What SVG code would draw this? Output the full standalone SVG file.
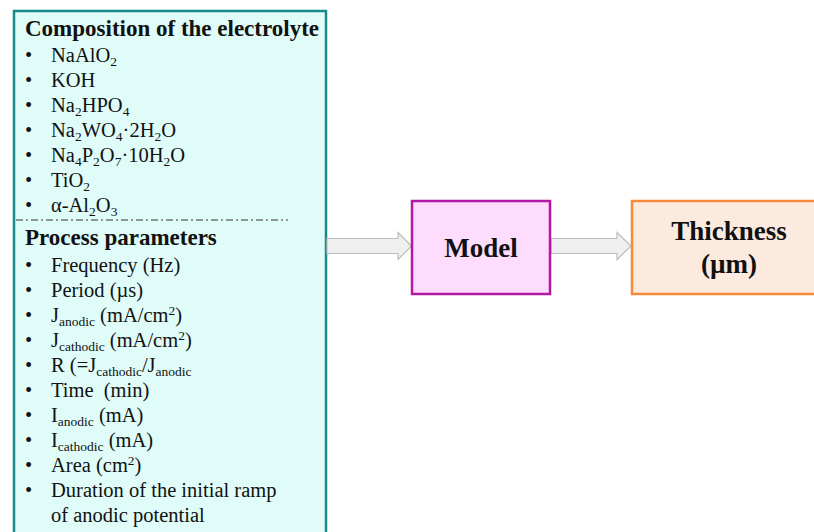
<svg xmlns="http://www.w3.org/2000/svg" width="814" height="532" viewBox="0 0 814 532">
<defs>
<style>
.t{font-family:"Liberation Serif","Times New Roman",serif;fill:#111;}
.h{font-size:23px;font-weight:bold;}
.i{font-size:20.5px;}
.s{font-size:13.5px;}
.b{font-size:27px;font-weight:bold;}
.pre{white-space:pre;}
.arrow{fill:#efefef;stroke:#bdbdbd;stroke-width:1.2;}
</style>
</defs>
<rect width="814" height="532" fill="#ffffff"/>
<g id="inputs">
<rect x="14" y="11" width="312" height="540" fill="#e0fcf9" stroke="#178a8a" stroke-width="2.5"/>
<line x1="16" y1="220" x2="288" y2="220" stroke="#333" stroke-width="1.2" stroke-dasharray="7,3,2,3"/>
<text class="t h" x="25" y="36">Composition of the electrolyte</text>
<g class="t i">
<text x="25" y="62">•</text><text x="51" y="62">NaAlO<tspan class="s" dy="4">2</tspan></text>
<text x="25" y="87">•</text><text x="51" y="87">KOH</text>
<text x="25" y="112">•</text><text x="51" y="112">Na<tspan class="s" dy="4">2</tspan><tspan dy="-4">HPO</tspan><tspan class="s" dy="4">4</tspan></text>
<text x="25" y="137">•</text><text x="51" y="137">Na<tspan class="s" dy="4">2</tspan><tspan dy="-4">WO</tspan><tspan class="s" dy="4">4</tspan><tspan dy="-4">·2H</tspan><tspan class="s" dy="4">2</tspan><tspan dy="-4">O</tspan></text>
<text x="25" y="162">•</text><text x="51" y="162">Na<tspan class="s" dy="4">4</tspan><tspan dy="-4">P</tspan><tspan class="s" dy="4">2</tspan><tspan dy="-4">O</tspan><tspan class="s" dy="4">7</tspan><tspan dy="-4">·10H</tspan><tspan class="s" dy="4">2</tspan><tspan dy="-4">O</tspan></text>
<text x="25" y="187">•</text><text x="51" y="187">TiO<tspan class="s" dy="4">2</tspan></text>
<text x="25" y="212">•</text><text x="51" y="212">α-Al<tspan class="s" dy="4">2</tspan><tspan dy="-4">O</tspan><tspan class="s" dy="4">3</tspan></text>
</g>
<text class="t h" x="25" y="245">Process parameters</text>
<g class="t i">
<text x="25" y="272">•</text><text x="51" y="272">Frequency (Hz)</text>
<text x="25" y="297">•</text><text x="51" y="297">Period (µs)</text>
<text x="25" y="322">•</text><text x="51" y="322">J<tspan class="s" dy="4">anodic</tspan><tspan dy="-4"> (mA/cm</tspan><tspan class="s" dy="-7">2</tspan><tspan dy="7">)</tspan></text>
<text x="25" y="347">•</text><text x="51" y="347">J<tspan class="s" dy="4">cathodic</tspan><tspan dy="-4"> (mA/cm</tspan><tspan class="s" dy="-7">2</tspan><tspan dy="7">)</tspan></text>
<text x="25" y="372">•</text><text x="51" y="372">R (=J<tspan class="s" dy="4">cathodic</tspan><tspan dy="-4">/J</tspan><tspan class="s" dy="4">anodic</tspan></text>
<text x="25" y="397">•</text><text class="pre" x="51" y="397">Time  (min)</text>
<text x="25" y="422">•</text><text x="51" y="422">I<tspan class="s" dy="4">anodic</tspan><tspan dy="-4"> (mA)</tspan></text>
<text x="25" y="447">•</text><text x="51" y="447">I<tspan class="s" dy="4">cathodic</tspan><tspan dy="-4"> (mA)</tspan></text>
<text x="25" y="472">•</text><text x="51" y="472">Area (cm<tspan class="s" dy="-7">2</tspan><tspan dy="7">)</tspan></text>
<text x="25" y="497">•</text><text x="51" y="497">Duration of the initial ramp</text>
<text x="51" y="522">of anodic potential</text>
</g>
</g>
<g id="connectors">
<polygon class="arrow" points="327,238.5 398,238.5 398,232.5 411.5,246 398,259.5 398,253.5 327,253.5"/>
<polygon class="arrow" points="551,238.5 617,238.5 617,232.5 631,246 617,259.5 617,253.5 551,253.5"/>
</g>
<g id="model">
<rect x="412" y="201" width="138" height="93" fill="#fedcfd" stroke="#b21aa5" stroke-width="2.5"/>
<text class="t b" x="481" y="257" text-anchor="middle">Model</text>
</g>
<g id="thickness">
<rect x="632" y="201" width="200" height="93" fill="#fdeadf" stroke="#f68a3a" stroke-width="2.5"/>
<text class="t b" x="729" y="240" text-anchor="middle">Thickness</text>
<text class="t b" x="729" y="273" text-anchor="middle">(µm)</text>
</g>
</svg>
